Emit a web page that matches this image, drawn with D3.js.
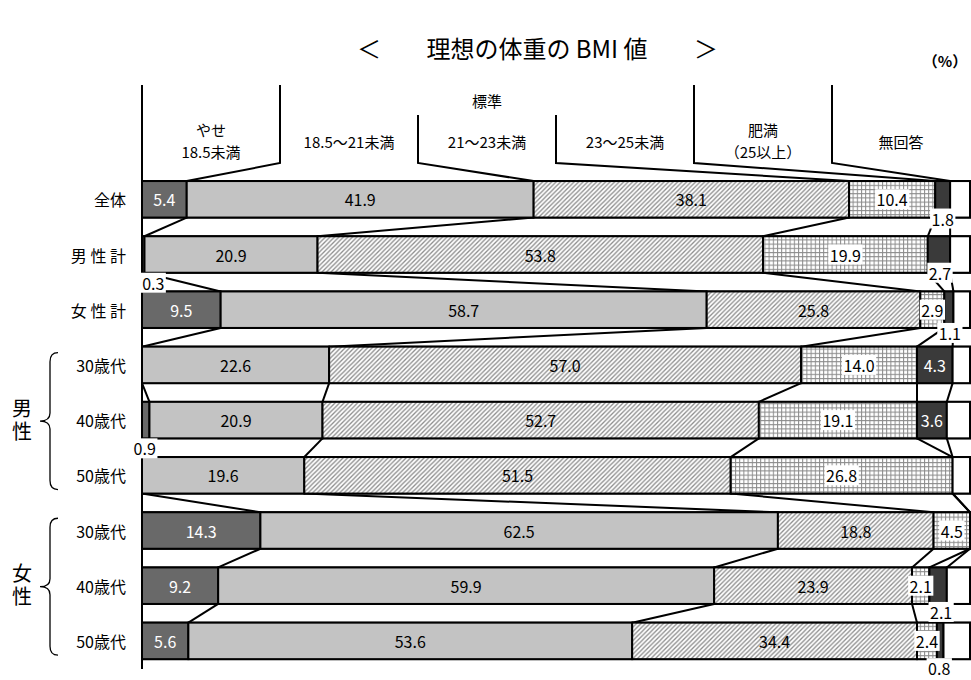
<!DOCTYPE html>
<html>
<head>
<meta charset="utf-8">
<script src="https://cdn.jsdelivr.net/npm/d3@7"></script>
<style>
  body { margin: 0; background: #fff; }
  svg { display: block; }
  text { font-family: "Noto Sans CJK JP", "Noto Sans", sans-serif; }
</style>
</head>
<body>
<svg id="chart" width="971" height="680"></svg>
<script>
// Rows of the chart (top to bottom)
const rowKeys   = ["all", "male", "female", "m30", "m40", "m50", "f30", "f40", "f50"];
const rowLabels = ["全体", "男 性 計", "女 性 計", "30歳代", "40歳代", "50歳代", "30歳代", "40歳代", "50歳代"];

// Age-group brackets on the left
const groupNames = ["男性", "女性"];
const groupRows  = [["m30", "m50"], ["f30", "f50"]];

// Series values (%), one array per BMI class
const seriesKeys = ["thin", "std1", "std2", "std3", "obese", "noans"];
const thin  = [5.4, 0.3, 9.5, 0.0, 0.9, 0.0, 14.3, 9.2, 5.6];
const std1  = [41.9, 20.9, 58.7, 22.6, 20.9, 19.6, 62.5, 59.9, 53.6];
const std2  = [38.1, 53.8, 25.8, 57.0, 52.7, 51.5, 18.8, 23.9, 34.4];
const std3  = [10.4, 19.9, 2.9, 14.0, 19.1, 26.8, 4.5, 2.1, 2.4];
const obese = [1.8, 2.7, 1.1, 4.3, 3.6, 0.0, 0.0, 2.1, 0.8];
const noans = [2.4, 2.4, 2.0, 2.1, 2.8, 2.1, 0.0, 2.8, 3.2];

// Column headings
const headerCols = [["やせ", "18.5未満"], ["18.5～21未満"], ["21～23未満"], ["23～25未満"], ["肥満", "（25以上）"], ["無回答"]];
const headerGroup = "標準";

const titleText = "理想の体重の BMI 値";
const unitLabel = "（%）";

// Labels for narrow segments drawn next to the bar (offset from segment centre / bar bottom)
const outsideLabels = {
  "all-obese":   { dx: 0,  dy: 1 },
  "male-thin":   { dx: 10, dy: 10 },
  "male-obese":  { dx: 1,  dy: 0 },
  "female-obese":{ dx: 1,  dy: 5 },
  "m40-thin":    { dx: -1, dy: 10 },
  "f40-obese":   { dx: 3,  dy: 8 },
  "f50-obese":   { dx: -1, dy: 9 }
};

const table = rowKeys.map((k, i) => ({
  key: k, thin: thin[i], std1: std1[i], std2: std2[i], std3: std3[i], obese: obese[i], noans: noans[i]
}));

const svg = d3.select("#chart");
const defs = svg.append("defs");

// Fill patterns
const hatch = defs.append("pattern").attr("id", "hatch")
  .attr("patternUnits", "userSpaceOnUse").attr("width", 4.5).attr("height", 4.5);
hatch.append("rect").attr("width", 4.5).attr("height", 4.5).attr("fill", "#fff");
hatch.append("path").attr("d", "M-1,1 L1,-1 M0,4.5 L4.5,0 M3.5,5.5 L5.5,3.5")
  .attr("stroke", "#8c8c8c").attr("stroke-width", 1.3);

const grid = defs.append("pattern").attr("id", "grid")
  .attr("patternUnits", "userSpaceOnUse").attr("width", 4.2).attr("height", 4.2);
grid.append("rect").attr("width", 4.2).attr("height", 4.2).attr("fill", "#fff");
grid.append("path").attr("d", "M0,0.5 H4.2 M0.5,0 V4.2")
  .attr("stroke", "#8a8a8a").attr("stroke-width", 1);

const fills = {
  thin: "#696969", std1: "#c3c3c3", std2: "url(#hatch)", std3: "url(#grid)", obese: "#3a3a3a", noans: "#fff"
};
const textColor = { thin: "#fff", std1: "#000", std2: "#000", std3: "#000", obese: "#fff" };

// Scales
const x = d3.scaleLinear().domain([0, 100]).range([142, 970]).clamp(true);
const y = d3.scaleBand().domain(rowKeys).range([171.7, 668.5]).paddingInner(0.339).paddingOuter(0.1695);
const bw = y.bandwidth();

const stacked = d3.stack().keys(seriesKeys)(table);
const fmt = d3.format(".1f");

// Title and unit
const title = svg.append("g").attr("font-size", 24);
title.append("text").attr("x", 369).attr("y", 47).attr("text-anchor", "middle")
  .attr("dominant-baseline", "central").text("＜");
title.append("text").attr("x", 537).attr("y", 47).attr("text-anchor", "middle")
  .attr("dominant-baseline", "central").text(titleText);
title.append("text").attr("x", 706).attr("y", 47).attr("text-anchor", "middle")
  .attr("dominant-baseline", "central").text("＞");
svg.append("text").attr("x", 945).attr("y", 60).attr("text-anchor", "middle")
  .attr("dominant-baseline", "central").attr("font-size", 15).attr("font-weight", "bold").text(unitLabel);

// Header columns
const hx = d3.scaleBand().domain(d3.range(headerCols.length)).range(x.range());
const firstTop = y(rowKeys[0]);
const header = svg.append("g");
headerCols.forEach((lines, j) => {
  const cx = hx(j) + hx.bandwidth() / 2;
  lines.forEach((s, li) => {
    header.append("text").attr("x", cx)
      .attr("y", lines.length === 1 ? 141 : 129 + li * 22)
      .attr("text-anchor", "middle").attr("dominant-baseline", "central")
      .attr("font-size", 15).text(s);
  });
});
header.append("text").attr("x", hx(2) + hx.bandwidth() / 2).attr("y", 100)
  .attr("text-anchor", "middle").attr("dominant-baseline", "central")
  .attr("font-size", 15).text(headerGroup);

// Header divider lines leading to the first bar's boundaries
for (let j = 1; j < headerCols.length; j++) {
  const top = (j === 2 || j === 3) ? 115 : 85;
  const xb = x(stacked[j - 1][0][1]);
  header.append("path")
    .attr("d", `M${hx(j)},${top} V163 L${xb},${firstTop}`)
    .attr("fill", "none").attr("stroke", "#000").attr("stroke-width", 2);
}

// Connecting lines between consecutive bars
const links = svg.append("g");
for (let k = 0; k < seriesKeys.length - 1; k++) {
  for (let i = 0; i < rowKeys.length - 1; i++) {
    links.append("line")
      .attr("x1", x(stacked[k][i][1])).attr("y1", y(rowKeys[i]) + bw)
      .attr("x2", x(stacked[k][i + 1][1])).attr("y2", y(rowKeys[i + 1]))
      .attr("stroke", "#000").attr("stroke-width", 2);
  }
}

// Bars
const bars = svg.append("g");
bars.selectAll("rect.frame").data(rowKeys).join("rect").attr("class", "frame")
  .attr("x", x(0)).attr("y", d => y(d)).attr("width", x(100) - x(0)).attr("height", bw)
  .attr("fill", "#fff").attr("stroke", "#000").attr("stroke-width", 2);

stacked.forEach(layer => {
  bars.append("g").selectAll("rect").data(layer.filter(d => d[1] - d[0] > 0)).join("rect")
    .attr("x", d => x(d[0])).attr("y", d => y(d.data.key))
    .attr("width", d => x(d[1]) - x(d[0])).attr("height", bw)
    .attr("fill", fills[layer.key]).attr("stroke", "#000").attr("stroke-width", 2);
});

// Left axis line
svg.append("line").attr("x1", x(0)).attr("x2", x(0)).attr("y1", 85).attr("y2", 669)
  .attr("stroke", "#000").attr("stroke-width", 2);

// Value labels
const labels = svg.append("g");
function addLabel(px, py, str, color, withBg) {
  const g = labels.append("g");
  const t = g.append("text").attr("x", px).attr("y", py)
    .attr("text-anchor", "middle").attr("dominant-baseline", "central")
    .attr("font-size", 16).attr("fill", color).text(str);
  if (withBg) {
    const b = t.node().getBBox();
    g.insert("rect", "text").attr("x", b.x - 1.5).attr("y", b.y + 2)
      .attr("width", b.width + 3).attr("height", b.height - 4).attr("fill", "#fff");
  }
}
stacked.forEach(layer => {
  if (layer.key === "noans") return;
  layer.forEach(d => {
    const v = d[1] - d[0];
    if (v <= 0) return;
    const key = d.data.key + "-" + layer.key;
    const cx = (x(d[0]) + x(d[1])) / 2;
    const value = fmt(d.data[layer.key]);
    const out = outsideLabels[key];
    if (out) {
      addLabel(cx + out.dx, y(d.data.key) + bw + out.dy, value, "#000", true);
    } else {
      addLabel(cx, y(d.data.key) + bw / 2, value, textColor[layer.key], layer.key === "std3");
    }
  });
});

// Row labels
svg.append("g").selectAll("text").data(rowKeys).join("text")
  .attr("x", 126).attr("y", d => y(d) + bw / 2)
  .attr("text-anchor", "end").attr("dominant-baseline", "central")
  .attr("font-size", 16).text((d, i) => rowLabels[i]);

// Group braces and names (names set vertically)
groupNames.forEach((name, gi) => {
  const top = y(groupRows[gi][0]) + 6;
  const bot = y(groupRows[gi][1]) + bw - 4;
  const mid = (top + bot) / 2;
  svg.append("path")
    .attr("d", `M58,${top} Q50,${top} 50,${top + 9} V${mid - 8} Q50,${mid} 40,${mid} Q50,${mid} 50,${mid + 8} V${bot - 9} Q50,${bot} 58,${bot}`)
    .attr("fill", "none").attr("stroke", "#000").attr("stroke-width", 1.3);
  svg.append("text").attr("x", 22).attr("y", mid)
    .attr("text-anchor", "middle")
    .style("writing-mode", "vertical-rl")
    .attr("letter-spacing", 3)
    .attr("font-size", 20).text(name);
});
</script>
</body>
</html>
